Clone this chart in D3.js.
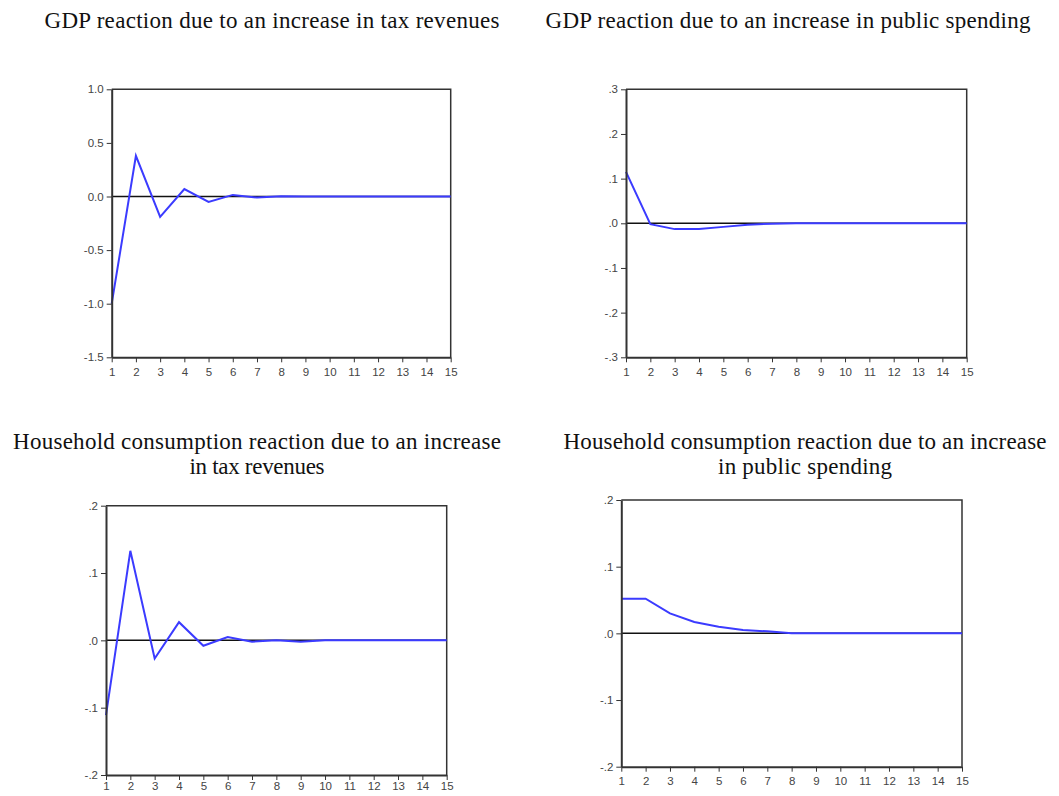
<!DOCTYPE html>
<html>
<head>
<meta charset="utf-8">
<script src="https://cdn.jsdelivr.net/npm/d3@7"></script>
<style>
  body { margin: 0; background: #fff; }
  .title { font-family: "Liberation Serif", "Times New Roman", serif; font-size: 23px; fill: #111; }
  .axis text { font-family: "Liberation Sans", Arial, sans-serif; font-size: 11.5px; fill: #444; }
  .axis path, .axis line { stroke: #333; }
</style>
</head>
<body>
<script>
// periods on the x axis
var periods = d3.range(1, 16);

// impulse responses
var gdpTax    = [-1.0, 0.38, -0.19, 0.07, -0.05, 0.015, -0.01, 0.002, -0.001, 0, 0, 0, 0, 0, 0];
var gdpSpend  = [0.115, -0.002, -0.013, -0.013, -0.008, -0.003, -0.001, 0, 0, 0, 0, 0, 0, 0, 0];
var consTax   = [-0.111, 0.133, -0.027, 0.027, -0.008, 0.005, -0.002, 0, -0.002, 0, 0, 0, 0, 0, 0];
var consSpend = [0.052, 0.052, 0.030, 0.017, 0.010, 0.005, 0.003, 0, 0, 0, 0, 0, 0, 0, 0];

// y tick values and their labels
var ticksGdpTax   = [1.0, 0.5, 0.0, -0.5, -1.0, -1.5];
var labelsGdpTax  = ["1.0", "0.5", "0.0", "-0.5", "-1.0", "-1.5"];
var ticksGdpSp    = [0.3, 0.2, 0.1, 0, -0.1, -0.2, -0.3];
var labelsGdpSp   = [".3", ".2", ".1", ".0", "-.1", "-.2", "-.3"];
var ticksCons     = [0.2, 0.1, 0, -0.1, -0.2];
var labelsCons    = [".2", ".1", ".0", "-.1", "-.2"];

var titles = [
  ["GDP reaction  due to an increase in tax revenues"],
  ["GDP reaction  due to an increase in public spending"],
  ["Household consumption reaction  due to an increase", "in tax revenues"],
  ["Household consumption reaction  due to an increase", "in public spending"]
];
// widths the title lines take in the picture
var titleWidths = [[455], [485], [488, 135], [483, 174]];

var width = 1059, height = 796;

var svg = d3.select("body").append("svg")
    .attr("width", width)
    .attr("height", height);

// panel boxes: left, right, top, bottom, title centre x, title baseline y
var panels = [
  {l: 111.7, r: 450.7, t: 89.3,  b: 357.3, tx: 272, ty: 28,  xpad: 6, data: gdpTax,    ticks: ticksGdpTax, labels: labelsGdpTax},
  {l: 626,   r: 966.7, t: 89.3,  b: 357.3, tx: 788, ty: 28,  xpad: 6, data: gdpSpend,  ticks: ticksGdpSp,  labels: labelsGdpSp},
  {l: 106,   r: 446.7, t: 505.7, b: 775,   tx: 257, ty: 449, xpad: 2, data: consTax,   ticks: ticksCons,   labels: labelsCons},
  {l: 621.3, r: 962,   t: 500,   b: 766.7, tx: 805, ty: 449, xpad: 5, data: consSpend, ticks: ticksCons,   labels: labelsCons}
];

panels.forEach(function(p, k) {
  var g = svg.append("g");

  var x = d3.scaleLinear().domain([1, 15]).range([p.l, p.r]);
  var y = d3.scaleLinear()
      .domain([d3.min(p.ticks), d3.max(p.ticks)])
      .range([p.b, p.t]);

  // title, one text per line
  g.selectAll("text.title")
    .data(titles[k])
    .enter().append("text")
    .attr("class", "title")
    .attr("x", p.tx)
    .attr("y", function(d, i) { return p.ty + i * 25; })
    .attr("text-anchor", "middle")
    .attr("textLength", function(d, i) { return titleWidths[k][i]; })
    .attr("lengthAdjust", "spacing")
    .text(function(d) { return d; });

  // top and right frame
  g.append("path")
    .attr("d", "M" + p.l + "," + p.t + "H" + p.r + "V" + p.b)
    .attr("fill", "none")
    .attr("stroke", "#333")
    .attr("stroke-width", 1.5);

  // zero line
  g.append("line")
    .attr("x1", x(1)).attr("x2", x(15))
    .attr("y1", y(0)).attr("y2", y(0))
    .attr("stroke", "#111")
    .attr("stroke-width", 1.5);

  // response line
  var line = d3.line()
      .x(function(d, i) { return x(periods[i]); })
      .y(function(d) { return y(d); });

  g.append("path")
    .datum(p.data)
    .attr("d", line)
    .attr("fill", "none")
    .attr("stroke", "#3b3bff")
    .attr("stroke-width", 2);

  // x axis
  var xAxis = d3.axisBottom(x)
      .tickValues(periods)
      .tickFormat(d3.format("d"))
      .tickSize(5)
      .tickSizeOuter(0)
      .tickPadding(p.xpad);

  g.append("g")
    .attr("class", "axis")
    .attr("transform", "translate(0," + p.b + ")")
    .call(xAxis)
    .select(".domain").attr("stroke-width", 2);

  // y axis
  var yAxis = d3.axisLeft(y)
      .tickValues(p.ticks)
      .tickFormat(function(d, i) { return p.labels[i]; })
      .tickSize(5)
      .tickSizeOuter(0)
      .tickPadding(3);

  g.append("g")
    .attr("class", "axis")
    .attr("transform", "translate(" + p.l + ",0)")
    .call(yAxis)
    .select(".domain").attr("stroke-width", 2);
});
</script>
</body>
</html>
